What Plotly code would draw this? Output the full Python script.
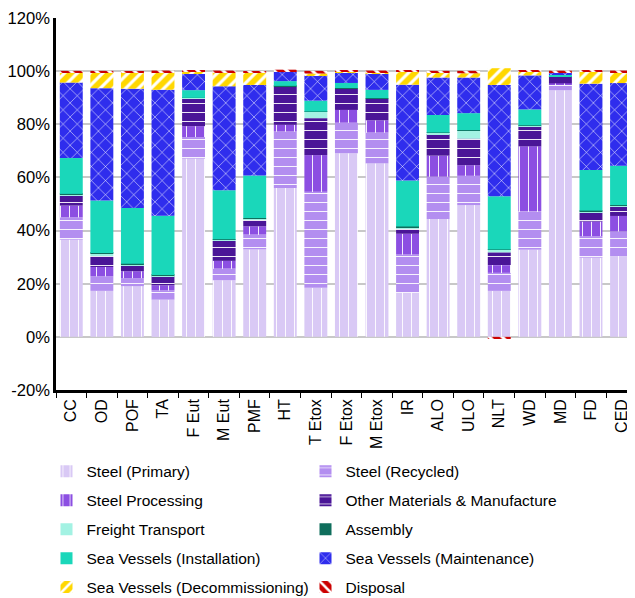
import plotly.graph_objects as go

categories = ["CC", "OD", "POF", "TA", "F Eut", "M Eut", "PMF", "HT", "T Etox", "F Etox",
              "M Etox", "IR", "ALO", "ULO", "NLT", "WD", "MD", "FD", "CED"]

steel_primary = [36.6, 17.3, 19.1, 14.0, 67.1, 21.3, 32.9, 56.0, 18.5, 69.1, 65.3, 16.6, 44.4, 49.6, 17.3, 32.8, 92.8, 29.8, 30.4]
steel_recycled = [8.4, 5.5, 3.0, 3.5, 8.1, 4.4, 5.6, 21.3, 36.1, 11.5, 11.6, 14.4, 15.9, 11.0, 6.8, 14.4, 2.2, 8.1, 9.3]
steel_processing = [4.4, 3.5, 2.6, 1.9, 4.1, 2.9, 3.1, 2.5, 13.8, 4.8, 4.6, 7.8, 7.9, 4.0, 2.9, 24.5, 0.4, 5.5, 5.8]
other_materials = [3.7, 4.1, 2.1, 3.4, 10.3, 7.5, 2.5, 14.4, 13.9, 8.0, 8.1, 1.9, 8.1, 10.0, 4.8, 7.5, 2.5, 3.3, 3.4]
freight_transport = [0.6, 1.1, 0.6, 0.4, 0.3, 0.5, 0.5, 0.2, 2.4, 0.2, 0.2, 0.5, 0.5, 3.1, 0.9, 0.3, 0.2, 0.6, 0.6]
assembly = [0.1, 0.1, 0.1, 0.1, 0.05, 0.1, 0.1, 0.05, 0.1, 0.05, 0.05, 0.3, 0.1, 0.1, 0.2, 0.1, 0.05, 0.2, 0.1]
sv_installation = [13.5, 19.7, 21.0, 22.3, 2.9, 18.5, 16.0, 1.8, 4.1, 1.9, 3.1, 17.3, 6.6, 6.4, 20.0, 6.0, 0.4, 15.3, 14.8]
sv_maintenance = [28.4, 42.3, 44.9, 47.4, 6.3, 39.1, 34.1, 3.5, 9.6, 3.8, 6.0, 36.1, 14.1, 13.4, 41.9, 12.8, 0.9, 32.5, 31.1]
sv_decommissioning = [3.8, 5.9, 6.0, 6.6, 0.6, 5.3, 4.6, 0.2, 0.6, 0.4, 0.5, 4.8, 1.9, 1.6, 6.3, 1.3, 0.2, 4.4, 4.1]
disposal = [0.6, 0.6, 0.6, 0.6, 0.6, 0.6, 0.6, 0.6, 1.0, 0.6, 0.75, 0.6, 0.6, 0.9, -0.8, 0.6, 0.5, 0.6, 0.6]

y_ticks = [-20, 0, 20, 40, 60, 80, 100, 120]

series = [
    ("Steel (Primary)", steel_primary, "#d9c9f5", "|", 9, 0.1),
    ("Steel (Recycled)", steel_recycled, "#b38ef0", "-", 9, 0.1),
    ("Steel Processing", steel_processing, "#8c4fe2", "|", 9, 0.1),
    ("Other Materials & Manufacture", other_materials, "#4a1597", "-", 9, 0.1),
    ("Freight Transport", freight_transport, "#a3f2e3", "", 8, 0.2),
    ("Assembly", assembly, "#0f6e5c", "", 8, 0.2),
    ("Sea Vessels (Installation)", sv_installation, "#1ad7ba", "", 8, 0.2),
    ("Sea Vessels (Maintenance)", sv_maintenance, "#2f2ded", "x", 10, 0.1),
    ("Sea Vessels (Decommissioning)", sv_decommissioning, "#ffd700", "/", 9, 0.35),
    ("Disposal", disposal, "#cc0000", "\\", 9, 0.35),
]

legend_names = ["legend", "legend2", "legend3", "legend4", "legend5"]

fig = go.Figure()
for i, (name, vals, color, shape, size, sol) in enumerate(series):
    marker = dict(color=color, line=dict(width=0))
    if shape:
        marker["pattern"] = dict(shape=shape, fgcolor="white", bgcolor=color,
                                 size=size, solidity=sol, fillmode="replace")
    fig.add_trace(go.Bar(name=name, x=categories, y=vals, marker=marker,
                         legend=legend_names[i // 2]))

# page body has an 8px margin, so the figure is 8px smaller than the window
W = 627
H = 590
row_centers_px = [463.7, 492.7, 521.7, 550.6, 579.5]
legend_common = dict(
    orientation="h",
    xref="container", yref="container",
    x=38.5 / W, xanchor="left", yanchor="middle",
    entrywidth=214, entrywidthmode="pixels",
    traceorder="normal",
    font=dict(size=15.5),
    bgcolor="rgba(0,0,0,0)",
)
legend_layout = {}
for name, yc in zip(legend_names, row_centers_px):
    d = dict(legend_common)
    d["y"] = 1 - yc / H
    legend_layout[name] = d

fig.update_layout(
    width=W, height=H,
    barmode="relative",
    bargap=0.25,
    plot_bgcolor="white",
    paper_bgcolor="white",
    font=dict(family="Liberation Sans, Arial, sans-serif", size=16, color="black"),
    margin=dict(l=48, r=0, t=10, b=208),
    showlegend=True,
    **legend_layout,
)
fig.update_yaxes(
    range=[-20, 120], tickvals=y_ticks, ticktext=[f"{v}%" for v in y_ticks],
    showgrid=True, gridcolor="#c8c8c8", gridwidth=1.5,
    zeroline=True, zerolinecolor="#c8c8c8", zerolinewidth=1.5,
    showline=True, linecolor="black", linewidth=2.5,
    ticks="",
    tickfont=dict(size=16.6), automargin=False,
)
fig.update_xaxes(
    range=[-0.5, 18.44],
    showline=True, linecolor="black", linewidth=2.5,
    ticks="outside", tickson="boundaries", ticklen=5, tickcolor="black",
    tickangle=-90, tickfont=dict(size=16),
    showgrid=False, automargin=False,
)

fig.write_html("out.html")
